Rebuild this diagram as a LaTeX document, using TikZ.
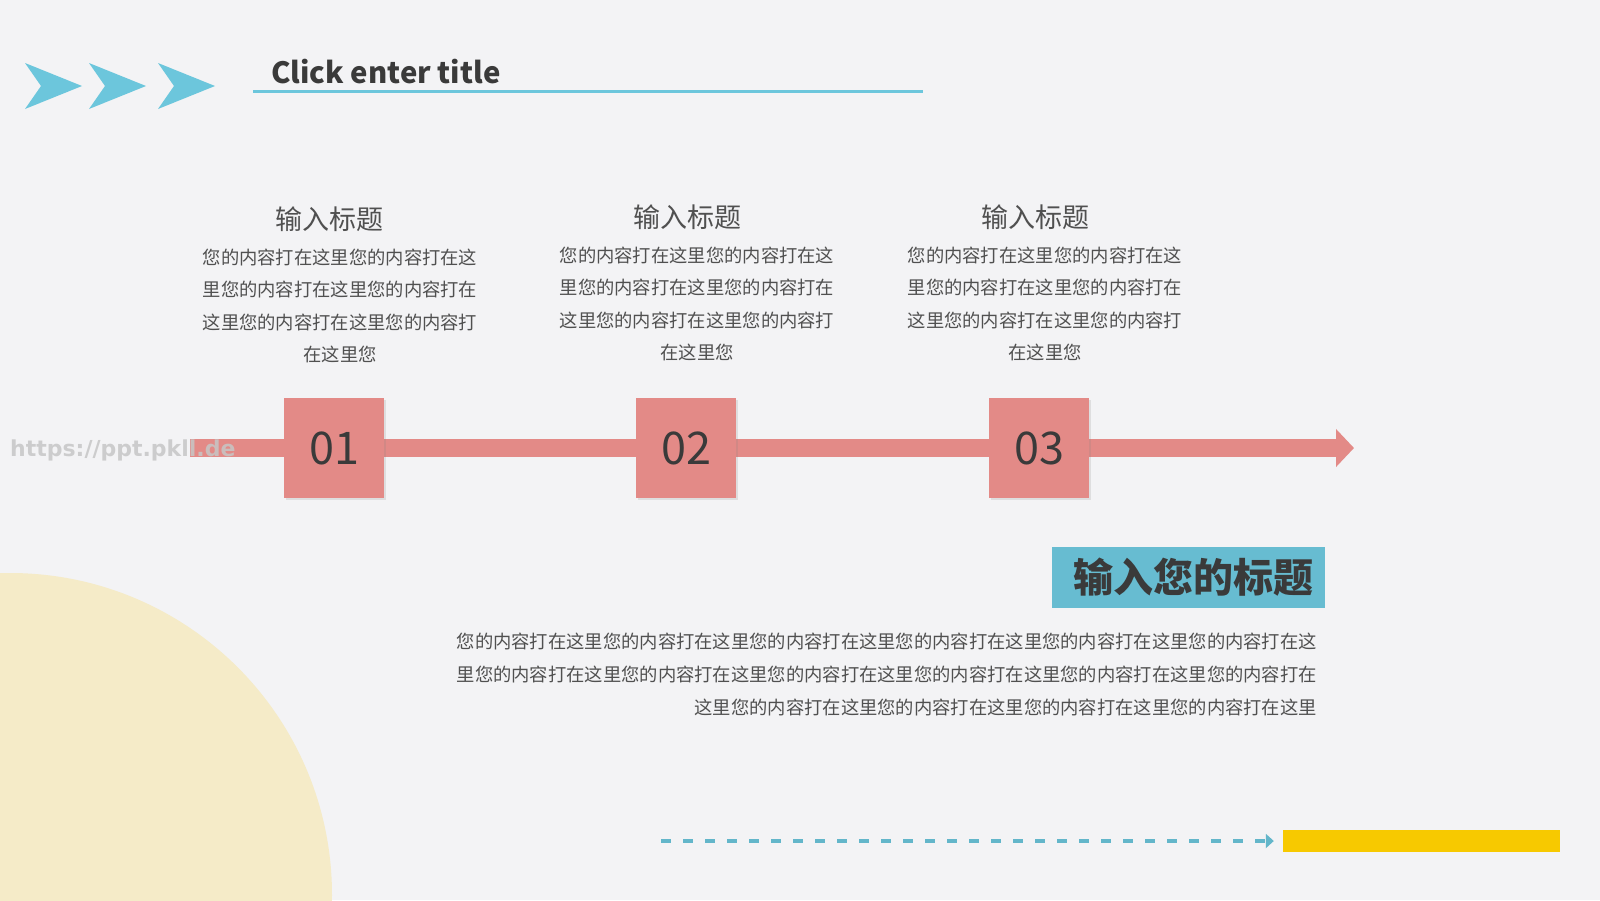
\documentclass[tikz,border=0pt]{standalone}
\usepackage{fontspec}
\setmainfont{Noto Sans CJK SC}
\newfontfamily\wmfont{DejaVu Sans}
\usepackage{xcolor}
\usetikzlibrary{positioning, arrows.meta, shadows, backgrounds}

\definecolor{pagebg}{HTML}{F3F3F5}
\definecolor{skyblue}{HTML}{6CC6DC}
\definecolor{salmon}{HTML}{E38A87}
\definecolor{cream}{HTML}{F5EBC8}
\definecolor{gold}{HTML}{F7C900}
\definecolor{darktext}{HTML}{3A3A3A}
\definecolor{bodytext}{HTML}{505050}
\definecolor{wmgray}{HTML}{C6C6C6}

\pgfdeclarelayer{lines}
\pgfsetlayers{background,lines,main}

\begin{document}
\begin{tikzpicture}[
    x=1pt, y=-1pt,
    chev/.style={fill=skyblue},
    titletext/.style={
        anchor=base west, inner sep=0, text=darktext,
        font=\bfseries\fontsize{29.3}{29.3}\selectfont,
    },
    head/.style={
        inner sep=0, text=bodytext,
        font=\fontsize{27}{27}\selectfont,
    },
    body/.style={
        inner sep=0, text=bodytext, align=center,
        font=\fontsize{18.3}{32.6}\selectfont,
    },
    numbox/.style={
        fill=salmon, minimum width=100pt, minimum height=100pt,
        inner sep=0, text=darktext, font=\fontsize{45}{45}\selectfont,
        drop shadow={shadow xshift=1.5pt, shadow yshift=-1.5pt, opacity=0.18},
    },
    bar/.style={draw=salmon, line width=18pt},
    tagbox/.style={
        fill=skyblue!95!black, minimum width=273pt, minimum height=61pt,
        inner sep=0, text=darktext, font=\bfseries\fontsize{40}{40}\selectfont,
    },
    goldbar/.style={fill=gold, minimum width=277pt, minimum height=22pt, inner sep=0},
    dashline/.style={
        draw=skyblue!92!black, line width=3.5pt, dash pattern=on 10pt off 12pt,
        -{Triangle[length=8pt, width=14pt]}, shorten >=9pt,
    },
    wmark/.style={
        anchor=west, inner sep=0, text=wmgray, opacity=0.85,
        font=\wmfont\bfseries\fontsize{22}{22}\selectfont,
    },
]

\useasboundingbox (0,0) rectangle (1600,900);

% ── Page background and cream disc ───────────────────────────────────
\begin{pgfonlayer}{background}
\fill[pagebg] (0,0) rectangle (1600,900);
\fill[cream] (10,895) circle (322pt);
\end{pgfonlayer}

% ── Header: chevrons, title, rule ────────────────────────────────────
\foreach \x in {25,89,158}
    \fill[chev] (\x,63) -- (\x+57,86) -- (\x,109) -- (\x+16,86) -- cycle;
\node[titletext] (title) at (271,83) {Click enter title};
\draw[skyblue, line width=3.5pt] (253,91.5) -- (923,91.5);

% ── Three columns ────────────────────────────────────────────────────
\node[head] (h1) at (329,219) {输入标题};
\node[body] (t1) at (340,306) {您的内容打在这里您的内容打在这\\里您的内容打在这里您的内容打在\\这里您的内容打在这里您的内容打\\在这里您};

\node[head] (h2) at (687,217) {输入标题};
\node[body] (t2) at (697,304) {您的内容打在这里您的内容打在这\\里您的内容打在这里您的内容打在\\这里您的内容打在这里您的内容打\\在这里您};

\node[head] (h3) at (1035,217) {输入标题};
\node[body] (t3) at (1045,304) {您的内容打在这里您的内容打在这\\里您的内容打在这里您的内容打在\\这里您的内容打在这里您的内容打\\在这里您};

% ── Timeline ─────────────────────────────────────────────────────────
\coordinate (tl start) at (190,448);
\coordinate (tl end)   at (1354,448);
\node[numbox] (n1) at (334,448)  {01};
\node[numbox] (n2) at (686,448)  {02};
\node[numbox] (n3) at (1039,448) {03};

\begin{pgfonlayer}{lines}
\draw[bar] (tl start) -- (n1);
\draw[bar] (n1) -- (n2);
\draw[bar] (n2) -- (n3);
\draw[bar, -{Triangle[length=18pt, width=37pt]}] (n3) -- (tl end);
\end{pgfonlayer}

\node[wmark] (wm) at (10,450) {https://ppt.pkll.de};

% ── Lower block: tag and paragraph ───────────────────────────────────
\node[tagbox] (tag) at (1188.5,577.5) {\hspace*{9pt}输入您的标题};
\node[body, align=right, anchor=east, font=\fontsize{18.3}{33}\selectfont] (para) at (1317,674)
    {您的内容打在这里您的内容打在这里您的内容打在这里您的内容打在这里您的内容打在这里您的内容打在这\\
     里您的内容打在这里您的内容打在这里您的内容打在这里您的内容打在这里您的内容打在这里您的内容打在\\
     这里您的内容打在这里您的内容打在这里您的内容打在这里您的内容打在这里};

% ── Footer: dashed arrow into gold bar ───────────────────────────────
\coordinate (dash start) at (661,841);
\node[goldbar] (gbar) at (1421.5,841) {};
\draw[dashline] (dash start) -- (gbar.west);

\end{tikzpicture}
\end{document}
